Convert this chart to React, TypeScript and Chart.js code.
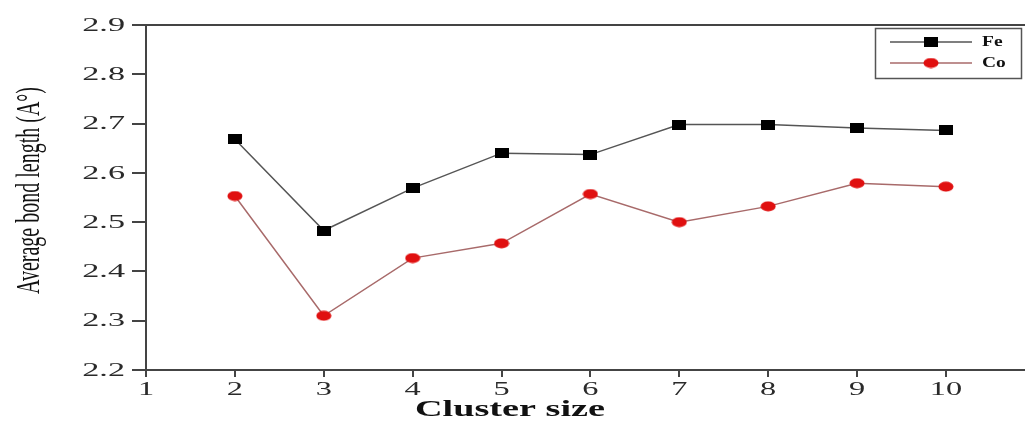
import React, { useEffect, useRef } from 'react';
import { Chart, registerables } from 'chart.js';
Chart.register(...registerables);

const clusterSizes = [2, 3, 4, 5, 6, 7, 8, 9, 10];
const feValues = [2.668, 2.483, 2.569, 2.64, 2.637, 2.698, 2.698, 2.691, 2.686];
const coValues = [2.553, 2.31, 2.427, 2.457, 2.557, 2.5, 2.532, 2.579, 2.572];
const xTicks = [1, 2, 3, 4, 5, 6, 7, 8, 9, 10];
const yTicks = [2.2, 2.3, 2.4, 2.5, 2.6, 2.7, 2.8, 2.9];
const seriesNames = ['Fe', 'Co'];
const xTitle = 'Cluster size';
const yTitle = 'Average bond length (A\u00B0)';

const SERIF = '"Liberation Serif", "Times New Roman", serif';
const W = 1025;
const H = 424;

function makeMarker(w: number, h: number, color: string, shape: 'rect' | 'ellipse') {
  const c = document.createElement('canvas');
  c.width = w;
  c.height = h;
  const ctx = c.getContext('2d')!;
  ctx.fillStyle = color;
  if (shape === 'rect') {
    ctx.fillRect(0, 0, w, h);
  } else {
    ctx.beginPath();
    ctx.ellipse(w / 2, h / 2, w / 2 - 0.5, h / 2 - 0.5, 0, 0, Math.PI * 2);
    ctx.fill();
  }
  return c;
}

// draws text horizontally stretched (the reference artwork is widened)
function stretchedText(
  ctx: CanvasRenderingContext2D,
  text: string,
  x: number,
  y: number,
  sx: number,
  align: CanvasTextAlign,
  baseline: CanvasTextBaseline,
  rotate = 0
) {
  ctx.save();
  ctx.translate(x, y);
  ctx.scale(sx, 1);
  if (rotate) ctx.rotate(rotate);
  ctx.textAlign = align;
  ctx.textBaseline = baseline;
  ctx.fillText(text, 0, 0);
  ctx.restore();
}

export default function App() {
  const ref = useRef<HTMLCanvasElement | null>(null);

  useEffect(() => {
    if (!ref.current) return;
    const feMarker = makeMarker(14, 10, '#000000', 'rect');
    const coMarker = makeMarker(16, 11, '#e01010', 'ellipse');
    const feLine = '#555555';
    const coLine = '#a86a6a';

    const decor = {
      id: 'decor',
      afterDraw(chart: any) {
        const ctx = chart.ctx as CanvasRenderingContext2D;
        const a = chart.chartArea;
        const xs = chart.scales.x;
        const ys = chart.scales.y;
        ctx.save();
        // top frame line
        ctx.strokeStyle = '#444';
        ctx.lineWidth = 2;
        ctx.beginPath();
        ctx.moveTo(a.left, a.top);
        ctx.lineTo(chart.width, a.top);
        ctx.stroke();

        // tick labels, positioned by the scales
        ctx.fillStyle = '#2a2a2a';
        ctx.font = `18px ${SERIF}`;
        ys.ticks.forEach((t: any, i: number) => {
          const py = ys.getPixelForTick(i);
          stretchedText(ctx, Number(t.value).toFixed(1), 125, py + 1, 1.9, 'right', 'middle');
        });
        ctx.font = `19px ${SERIF}`;
        xs.ticks.forEach((t: any, i: number) => {
          const px = xs.getPixelForTick(i);
          stretchedText(ctx, String(t.value), px, a.bottom + 20, 1.7, 'center', 'middle');
        });

        // axis titles
        ctx.fillStyle = '#111';
        ctx.font = `bold 24px ${SERIF}`;
        const tw = ctx.measureText(xTitle).width;
        stretchedText(ctx, xTitle, 510, 416, 190 / tw, 'center', 'alphabetic');
        ctx.font = `20px ${SERIF}`;
        stretchedText(ctx, yTitle, 30, (a.top + a.bottom) / 2 - 7, 1.7, 'center', 'middle', -Math.PI / 2);

        // legend box
        ctx.lineWidth = 1.5;
        ctx.strokeStyle = '#555';
        ctx.strokeRect(875.5, 28.5, 146, 50);
        const rows = [
          { y: 42, line: feLine, marker: feMarker, name: seriesNames[0] },
          { y: 63, line: coLine, marker: coMarker, name: seriesNames[1] },
        ];
        rows.forEach((r) => {
          ctx.strokeStyle = r.line;
          ctx.lineWidth = 1.3;
          ctx.beginPath();
          ctx.moveTo(890, r.y);
          ctx.lineTo(972, r.y);
          ctx.stroke();
          ctx.drawImage(r.marker, 931 - r.marker.width / 2, r.y - r.marker.height / 2);
          ctx.fillStyle = '#111';
          ctx.font = `bold 15px ${SERIF}`;
          stretchedText(ctx, r.name, 982, r.y, 1.3, 'left', 'middle');
        });
        ctx.restore();
      },
    };

    const chart = new Chart(ref.current, {
      type: 'line',
      data: {
        datasets: [
          {
            label: seriesNames[0],
            data: clusterSizes.map((x, i) => ({ x, y: feValues[i] })),
            borderColor: feLine,
            borderWidth: 1.5,
            pointStyle: feMarker as any,
            pointRadius: 7,
            tension: 0,
          },
          {
            label: seriesNames[1],
            data: clusterSizes.map((x, i) => ({ x, y: coValues[i] })),
            borderColor: coLine,
            borderWidth: 1.5,
            pointStyle: coMarker as any,
            pointRadius: 8,
            tension: 0,
          },
        ],
      },
      options: {
        animation: false,
        responsive: false,
        maintainAspectRatio: false,
        devicePixelRatio: 1,
        layout: { autoPadding: false, padding: { top: 25, right: 0, left: 0, bottom: 0 } },
        plugins: { legend: { display: false }, tooltip: { enabled: false } },
        scales: {
          x: {
            type: 'linear',
            min: 1,
            max: 10.89,
            afterBuildTicks: (s: any) => {
              s.ticks = xTicks.map((v) => ({ value: v }));
            },
            afterFit: (s: any) => {
              s.height = 54;
              s.paddingLeft = 0;
              s.paddingRight = 0;
            },
            border: { display: true, color: '#444', width: 2 },
            grid: { drawOnChartArea: false, drawTicks: true, tickLength: 7, color: '#444', lineWidth: 2 },
            ticks: { display: false, autoSkip: false },
          },
          y: {
            type: 'linear',
            min: 2.2,
            max: 2.9,
            afterBuildTicks: (s: any) => {
              s.ticks = yTicks.map((v) => ({ value: v }));
            },
            afterFit: (s: any) => {
              s.width = 146;
              s.paddingTop = 0;
              s.paddingBottom = 0;
            },
            border: { display: true, color: '#444', width: 2 },
            grid: { drawOnChartArea: false, drawTicks: true, tickLength: 14, color: '#444', lineWidth: 2 },
            ticks: { display: false },
          },
        },
      },
      plugins: [decor],
    });
    return () => chart.destroy();
  }, []);

  return (
    <div style={{ position: 'fixed', left: 0, top: 0, width: W, height: H, background: '#fff' }}>
      <canvas ref={ref} width={W} height={H} style={{ display: 'block', width: W, height: H }} />
    </div>
  );
}
